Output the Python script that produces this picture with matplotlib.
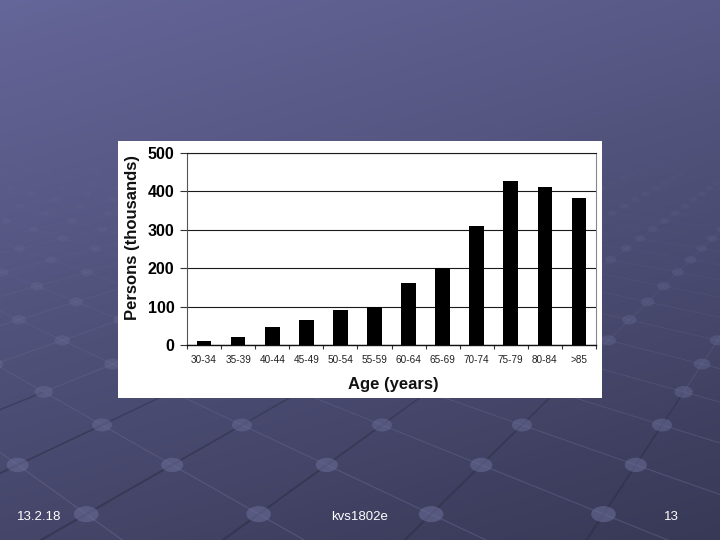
import numpy as np
import matplotlib
matplotlib.use("Agg")
import matplotlib.pyplot as plt
from matplotlib.patches import Rectangle, Ellipse

# ---- data ----
age_groups = ["30-34", "35-39", "40-44", "45-49", "50-54", "55-59",
              "60-64", "65-69", "70-74", "75-79", "80-84", ">85"]
persons = [10, 20, 46, 66, 92, 99, 162, 201, 311, 426, 411, 382]
y_ticks = [0, 100, 200, 300, 400, 500]
footer_left = "13.2.18"
footer_mid = "kvs1802e"
footer_right = "13"

W, H = 720, 540
fig = plt.figure(figsize=(7.2, 5.4), dpi=100)

# ---- slide background ----
bg = fig.add_axes([0, 0, 1, 1])
bg.set_xlim(0, W)
bg.set_ylim(H, 0)
bg.axis("off")
yy, xx = np.mgrid[0:H, 0:W]
t = np.clip(0.72 * yy / H + 0.28 * xx / W, 0, 1)
c_top = np.array([101, 102, 153]) / 255
c_bot = np.array([56, 57, 86]) / 255
img = c_top[None, None, :] * (1 - t[..., None]) + c_bot[None, None, :] * t[..., None]
bg.imshow(img, extent=[0, W, H, 0], aspect="auto", zorder=0)

# perspective lattice decoration (subtle)
hz, K, vx, dz = 40.0, 385.0, 170.0, 0.094
def proj(i, j):
    Z = 1 + j * dz
    X = -68 + 70 * i
    return vx + X / Z, hz + K / Z, Z

def fade(y):
    return float(np.clip((y - 150) / 330, 0, 1)) ** 0.8

pts = {}
for j in range(-4, 40):
    for i in range(-25, 30):
        if (i + j) % 2 == 0 and 1 + j * dz > 0.3:
            pts[(i, j)] = proj(i, j)

for (i, j), (x, y, Z) in pts.items():
    for (di, dj), col in [((1, -1), (0.60, 0.61, 0.78)),
                          ((1, 1), (0.62, 0.63, 0.80))]:
        if (i + di, j + dj) in pts:
            x2, y2, Z2 = pts[(i + di, j + dj)]
            a = fade((y + y2) / 2)
            if a > 0:
                bg.plot([x, x2], [y, y2], color=col, lw=0.7 / Z,
                        alpha=0.22 * a, zorder=1)
    # dark grooves along the up-right diagonal in the lower area
    if (i + 1, j + 1) in pts and y > 400:
        x2, y2, Z2 = pts[(i + 1, j + 1)]
        bg.plot([x, x2], [y, y2], color=(0.10, 0.10, 0.18), lw=1.0 / Z,
                alpha=0.5 * fade(y), zorder=1)
    a = fade(y)
    if a > 0:
        bg.add_patch(Ellipse((x, y), 20 / Z, 13 / Z,
                             facecolor=(0.42, 0.43, 0.60), edgecolor="none",
                             alpha=0.55 * a, zorder=2))

# white chart panel
bg.add_patch(Rectangle((118, 141), 484, 257, facecolor="white",
                       edgecolor="none", zorder=5))

# ---- chart ----
L, R, T, B = 187, 596, 153, 345
ax = fig.add_axes([L / W, 1 - B / H, (R - L) / W, (B - T) / H])
ax.set_facecolor("none")
x = np.arange(len(age_groups))
ax.bar(x, persons, width=0.43, color="black", zorder=3)
ax.set_xlim(-0.5, len(age_groups) - 0.5)
ax.set_ylim(0, 500)
ax.set_yticks(y_ticks)
ax.set_yticklabels([str(v) for v in y_ticks], fontsize=11.5,
                   fontweight="bold", family="Liberation Sans")
ax.yaxis.grid(True, color="#1a1a1a", lw=0.8, zorder=1)
ax.set_axisbelow(True)
ax.tick_params(axis="y", length=5, width=0.8, color="#333", pad=4)

ax.set_xticks(x)
ax.set_xticklabels(age_groups, fontsize=7.2, color="#222",
                   family="Liberation Sans")
ax.tick_params(axis="x", which="major", length=0, pad=7)
ax.set_xticks(np.arange(-0.5, len(age_groups), 1.0), minor=True)
ax.tick_params(axis="x", which="minor", length=3, width=0.8, color="#333",
               direction="out")

ax.spines["top"].set_color("#1a1a1a")
ax.spines["top"].set_linewidth(0.8)
ax.spines["right"].set_color("#888888")
ax.spines["right"].set_linewidth(0.8)
ax.spines["left"].set_color("#555555")
ax.spines["left"].set_linewidth(0.8)
ax.spines["bottom"].set_color("#111111")
ax.spines["bottom"].set_linewidth(1.0)

fig.text(132 / W, 1 - 237 / H, "Persons (thousands)", rotation=90,
         ha="center", va="center", fontsize=12, fontweight="bold",
         family="Liberation Sans", color="#111")
fig.text(393 / W, 1 - 385 / H, "Age (years)", ha="center", va="center",
         fontsize=12, fontweight="bold", family="Liberation Sans",
         color="#111")

# ---- footer ----
for xpos, s in [(39, footer_left), (360, footer_mid), (671, footer_right)]:
    fig.text(xpos / W, 1 - 517 / H, s, ha="center", va="center",
             fontsize=9.5, color="white", family="Liberation Sans")

fig.savefig("out.png", dpi=100)
